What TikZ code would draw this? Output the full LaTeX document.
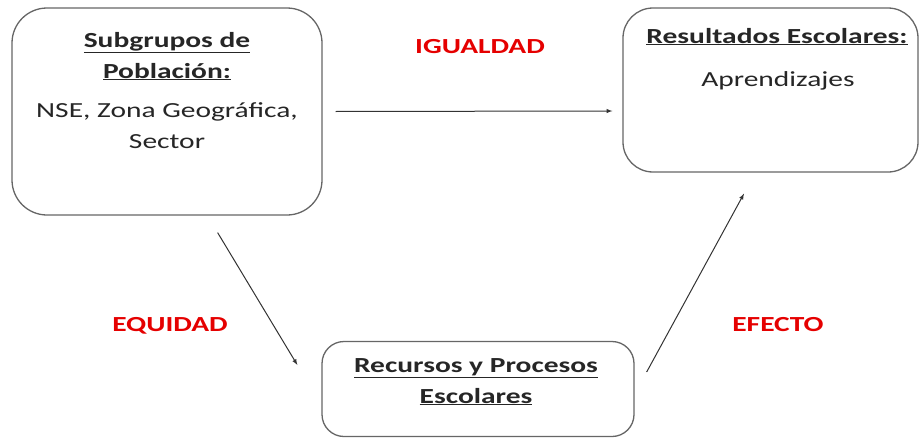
\documentclass[tikz,border=0pt]{standalone}
\usepackage{fontspec}
\setmainfont{Carlito}[FakeStretch=1.37]
\usetikzlibrary{arrows,positioning,calc}

\newcommand{\titu}[1]{\textbf{\underline{#1}}}

\begin{document}
\begin{tikzpicture} [x=1pt,y=-1pt,
 every node/.style={inner sep=0pt,font=\fontsize{21.5}{31}\selectfont,text=black!85},
 caja/.style={rectangle,draw=black!60,line width=1.3pt,fill=white},
 etiq/.style={text=red!90!black,font=\fontsize{21.5}{25}\selectfont\bfseries},
 flecha/.style={-latex,line width=1pt,black!80},
]
    \useasboundingbox (0,0) rectangle (921,439);
    % cajas
    \node[caja,rounded corners=35pt,minimum width=310pt,minimum height=207pt] (pob) at (167,111.5) {};
    \node[caja,rounded corners=30pt,minimum width=295pt,minimum height=164pt] (res) at (770.5,90) {};
    \node[caja,rounded corners=22pt,minimum width=312pt,minimum height=95pt] (rec) at (478,389) {};
    % textos
    \node[anchor=base,align=center] (pobtit) at (167,78) {\titu{Subgrupos de}\\\titu{Población:}};
    \node[anchor=base,align=center] (pobtxt) at (167,148) {NSE, Zona Geográfica,\\Sector};
    \node[anchor=base] (restit) at (777,43) {\titu{Resultados Escolares:}};
    \node[anchor=base] (restxt) at (778,86) {Aprendizajes};
    \node[anchor=base,align=center] (rectit) at (476,403) {\titu{Recursos y Procesos}\\\titu{Escolares}};
    % relaciones
    \node[etiq,anchor=base] (igual) at (480,53) {IGUALDAD};
    \node[etiq,anchor=base] (equi) at (170,331) {EQUIDAD};
    \node[etiq,anchor=base] (efec) at (778,331) {EFECTO};
    \draw[flecha] ($(pob.east)+(13,0)$) -- ($(res.west)+(-10,21)$);
    \draw[flecha] ($(pob.south east)+(-105,17)$) -- ($(rec.west)+(-24,-24)$);
    \draw[flecha] ($(rec.east)+(12,-17)$) -- ($(res.south)+(-26.5,21)$);
\end{tikzpicture}
\end{document}
